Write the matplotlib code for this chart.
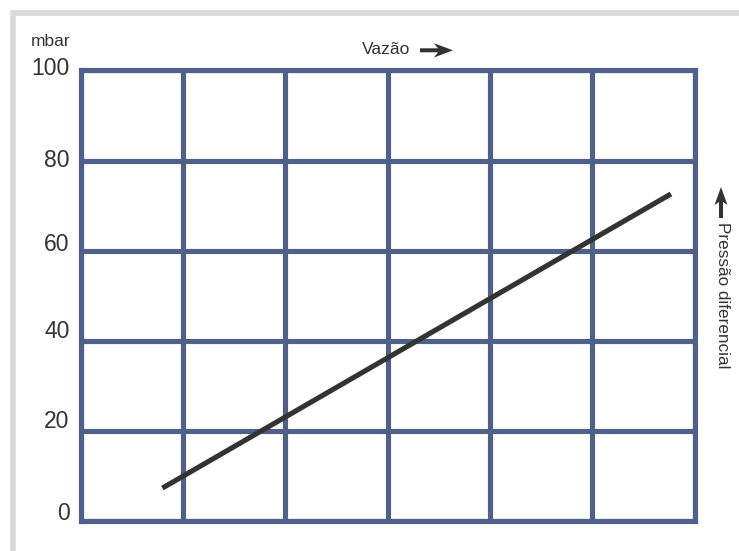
import matplotlib
matplotlib.use("Agg")
import matplotlib.pyplot as plt
from matplotlib.lines import Line2D
from matplotlib.patches import Polygon

# Data
flow = [0.8, 5.77]
pressure = [7.3, 72.6]
y_ticks = [0, 20, 40, 60, 80, 100]
y_tick_labels = ["0", "20", "40", "60", "80", "100"]
x_ticks = [0, 1, 2, 3, 4, 5, 6]

# style: vertical pixel offset of each tick label above its grid line
label_lift_px = [8, 9, 9, 6, 0, 2]

W, H = 739, 551
fig = plt.figure(figsize=(W / 100, H / 100), dpi=100)
fig.patch.set_facecolor("white")

def fx(px):
    return px / W

def fy(py):
    return 1 - py / H

grid_color = "#4f6189"
text_color = "#333333"
fam = ["Liberation Sans", "DejaVu Sans"]

ax = fig.add_axes([fx(80.5), fy(521), fx(694.5) - fx(80.5), fy(70.5) - fy(521)])
ax.set_xlim(0, 6)
ax.set_ylim(0, 100)
ax.set_xticks(x_ticks)
ax.set_yticks(y_ticks)
ax.set_xticklabels([])
ax.set_yticklabels([])
ax.tick_params(length=0)
ax.grid(True, color=grid_color, linewidth=3.7)
ax.set_axisbelow(True)
for s in ax.spines.values():
    s.set_color(grid_color)
    s.set_linewidth(3.7)
    s.set_capstyle("projecting")

ax.plot(flow, pressure, color="#333333", linewidth=3.7, solid_capstyle="butt", zorder=3)

# y tick labels
for v, lab, lift in zip(y_ticks, y_tick_labels, label_lift_px):
    ax.annotate(lab, xy=(0, v), xycoords=("axes fraction", "data"),
                xytext=(-8, lift * 0.72), textcoords="offset points",
                ha="right", va="center", fontsize=16.5, color=text_color,
                family=fam)

# light gray frame (left and top)
fig.add_artist(Line2D([fx(12.5), fx(12.5), fx(745)], [fy(560), fy(12.5), fy(12.5)],
                      transform=fig.transFigure, color="#d9d9d9", linewidth=4,
                      solid_joinstyle="miter"))

fig.text(fx(31), fy(41), "mbar", ha="left", va="center", fontsize=12.5,
         color=text_color, family=fam)

fig.text(fx(410), fy(50), "Vazão", ha="right", va="center", fontsize=12.5,
         color=text_color, family=fam)

def px_poly(points):
    return Polygon([(fx(x), fy(y)) for x, y in points], closed=True,
                   transform=fig.transFigure, facecolor=text_color,
                   edgecolor="none")

# right arrow next to "Vazão"
fig.add_artist(px_poly([(420, 48.3), (438, 48.3), (434, 43.3), (453, 50.3),
                        (434, 57.5), (438, 52.3), (420, 52.3)]))

fig.text(fx(722), fy(222), "Pressão diferencial", ha="center", va="top",
         rotation=-90, fontsize=12.3, color=text_color, family=fam)

# up arrow above right label
fig.add_artist(px_poly([(719, 218), (719, 202), (714.5, 205), (721, 187),
                        (727.5, 205), (723, 202), (723, 218)]))

fig.savefig("out.png", dpi=100, facecolor="white")
